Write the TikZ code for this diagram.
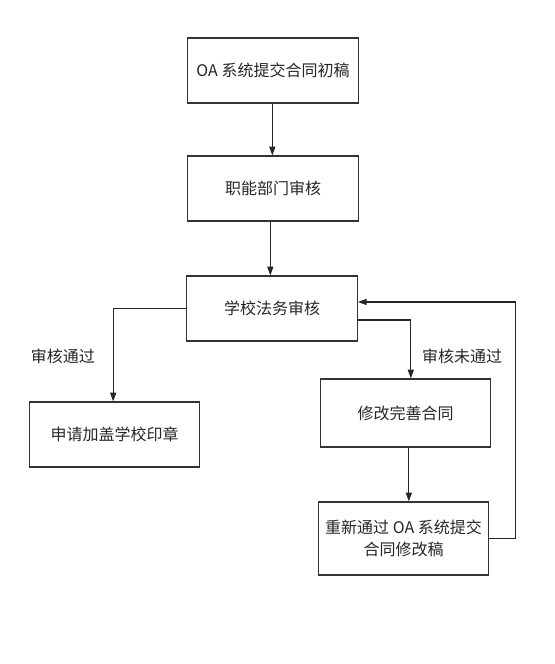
\documentclass[tikz,border=0pt]{standalone}
\usepackage{fontspec}
\setmainfont{Noto Sans CJK SC}
\usetikzlibrary{arrows.meta,positioning}

\begin{document}
\begin{tikzpicture}[x=0.75pt, y=-0.75pt,
    stepbox/.style={draw=black!80, line width=0.9pt, minimum width=128pt, minimum height=48.75pt, align=center, text=black!85, font=\fontsize{12pt}{16.5pt}\selectfont},
    arr/.style={-{Triangle[length=6.5pt,width=4.5pt]}, line width=0.8pt, draw=black!85},
    lbl/.style={text=black!85, font=\fontsize{12pt}{16.5pt}\selectfont}
]
\useasboundingbox (0,0) rectangle (554,664);
\node[stepbox] (draft) at (273,70.5) {OA 系统提交合同初稿};
\node[stepbox] (dept) at (273,188.5) {职能部门审核};
\node[stepbox] (legal) at (272,308.5) {学校法务审核};
\node[stepbox] (seal) at (114.5,434.5) {申请加盖学校印章};
\node[stepbox, minimum height=51pt] (fix) at (405.5,413) {修改完善合同};
\node[stepbox, minimum height=54.75pt] (resub) at (403.5,538.5) {重新通过 OA 系统提交\\合同修改稿};

\node[lbl] (pass) at (63,356) {审核通过};
\node[lbl] (fail) at (462,356) {审核未通过};

\draw[arr] ([xshift=-0.5pt]draft.south) -- ([xshift=-0.5pt]draft.south |- dept.north);
\draw[arr] ([xshift=-2pt]dept.south) -- ([xshift=-2pt]dept.south |- legal.north);
\draw[arr] (legal.west) -| ([xshift=-1pt]seal.north);
\draw[arr] ([yshift=-8.6pt]legal.east) -| ([xshift=4pt]fix.north);
\draw[arr] ([xshift=2.5pt]fix.south) -- ([xshift=2.5pt]fix.south |- resub.north);
\draw[arr] (resub.east) -- ++(26,0) |- ([yshift=4.9pt]legal.east);
\end{tikzpicture}
\end{document}
